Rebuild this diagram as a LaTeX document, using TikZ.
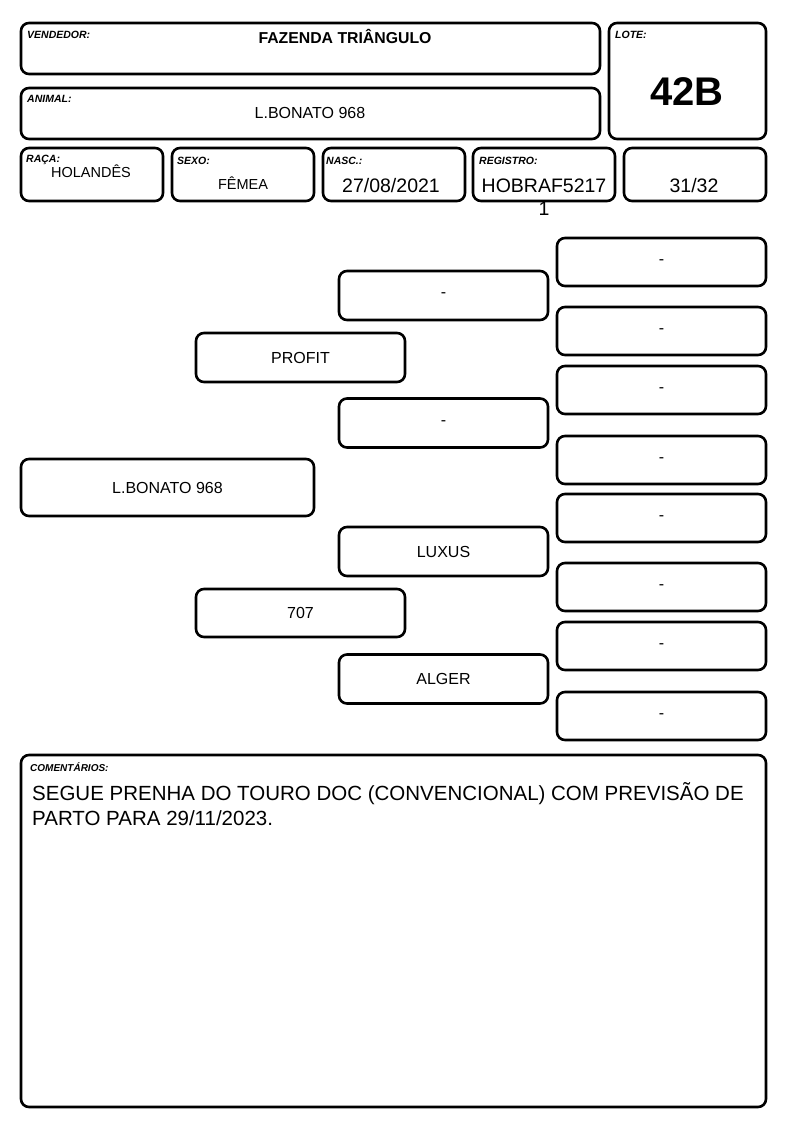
\documentclass[tikz,border=0pt]{standalone}
\usepackage{fontspec}
\setmainfont{Liberation Sans}
\newcommand{\dsh}{\raisebox{-3pt}{-}}
\begin{document}
\begin{tikzpicture}[x=1pt,y=-1pt,
  box/.style={draw=black, line width=2.6pt, rounded corners=8pt, inner sep=0pt, outer sep=0pt, fill=white},
  lbl/.style={anchor=base west, inner sep=0pt, font=\fontsize{10.5}{12}\selectfont\bfseries\itshape},
  val/.style={anchor=base, inner sep=0pt, font=\fontsize{16}{19}\selectfont},
  big/.style={val, font=\fontsize{19.5}{23}\selectfont},
  ped/.style={box, font=\fontsize{16}{19}\selectfont},
  c4/.style={ped, minimum width=209pt, minimum height=48pt},
  c3/.style={ped, minimum width=209pt, minimum height=49pt},
  ctext/.style={anchor=base west, inner sep=0pt, font=\fontsize{20.5}{25}\selectfont}]
\useasboundingbox (0,0) rectangle (794,1123);
% header boxes
\node[box, minimum width=579pt, minimum height=51pt] (vend) at (310.5,48.5) {};
\node[box, minimum width=579pt, minimum height=51pt] (anim) at (310.5,113.5) {};
\node[box, minimum width=157pt, minimum height=116pt] (lote) at (687.5,81) {};
\node[box, minimum width=142pt, minimum height=53pt] (raca) at (92,174.5) {};
\node[box, minimum width=142pt, minimum height=53pt] (sexo) at (243,174.5) {};
\node[box, minimum width=142pt, minimum height=53pt] (nasc) at (394,174.5) {};
\node[box, minimum width=142pt, minimum height=53pt] (reg) at (544,174.5) {};
\node[box, minimum width=142pt, minimum height=53pt] (num) at (695,174.5) {};
% labels
\node[lbl] (lvend) at (27,39) {VENDEDOR:};
\node[lbl] (lanim) at (27,103) {ANIMAL:};
\node[lbl] (llote) at (615,39) {LOTE:};
\node[lbl] (lraca) at (26,163) {RAÇA:};
\node[lbl] (lsexo) at (177,165) {SEXO:};
\node[lbl] (lnasc) at (326,165) {NASC.:};
\node[lbl] (lreg) at (479,165) {REGISTRO:};
% values
\node[val, font=\fontsize{15.8}{18}\selectfont\bfseries] (tvend) at (345,44) {FAZENDA TRIÂNGULO};
\node[val] (tanim) at (310,119) {L.BONATO 968};
\node[val, font=\fontsize{40}{44}\selectfont\bfseries] (tlote) at (687,106) {42B};
\node[val, font=\fontsize{14.5}{17}\selectfont] (traca) at (91,178) {HOLANDÊS};
\node[val, font=\fontsize{14.5}{17}\selectfont] (tsexo) at (243,190) {FÊMEA};
\node[big] (tnasc) at (391,193) {27/08/2021};
\node[big] (treg) at (544,193) {HOBRAF5217};
\node[big] (treg2) at (544,215) {1};
\node[big] (tnum) at (694,193) {31/32};
% pedigree
\node[ped, minimum width=293pt, minimum height=57pt] (p1) at (167.5,487.5) {L.BONATO 968};
\node[ped, minimum width=209pt, minimum height=49pt] (p2a) at (300.5,357.5) {PROFIT};
\node[ped, minimum width=209pt, minimum height=48pt] (p2b) at (300.5,613) {707};
\node[c3] (p3a) at (443.5,295.5) {\dsh};
\node[c3] (p3b) at (443.5,423) {\dsh};
\node[c3] (p3c) at (443.5,551.5) {LUXUS};
\node[c3] (p3d) at (443.5,679) {ALGER};
\node[c4] (p4a) at (661.5,262) {\dsh};
\node[c4] (p4b) at (661.5,331) {\dsh};
\node[c4] (p4c) at (661.5,390) {\dsh};
\node[c4] (p4d) at (661.5,460) {\dsh};
\node[c4] (p4e) at (661.5,518) {\dsh};
\node[c4] (p4f) at (661.5,587) {\dsh};
\node[c4] (p4g) at (661.5,646) {\dsh};
\node[c4] (p4h) at (661.5,716) {\dsh};
% comments
\node[box, minimum width=745pt, minimum height=352pt] (com) at (393.5,931) {};
\node[lbl, font=\fontsize{10}{12}\selectfont\bfseries\itshape] (lcom) at (30,771) {COMENTÁRIOS:};
\node[ctext] (tcom1) at (32,800) {SEGUE PRENHA DO TOURO DOC (CONVENCIONAL) COM PREVISÃO DE};
\node[ctext] (tcom2) at (32,825) {PARTO PARA 29/11/2023.};
\end{tikzpicture}
\end{document}
